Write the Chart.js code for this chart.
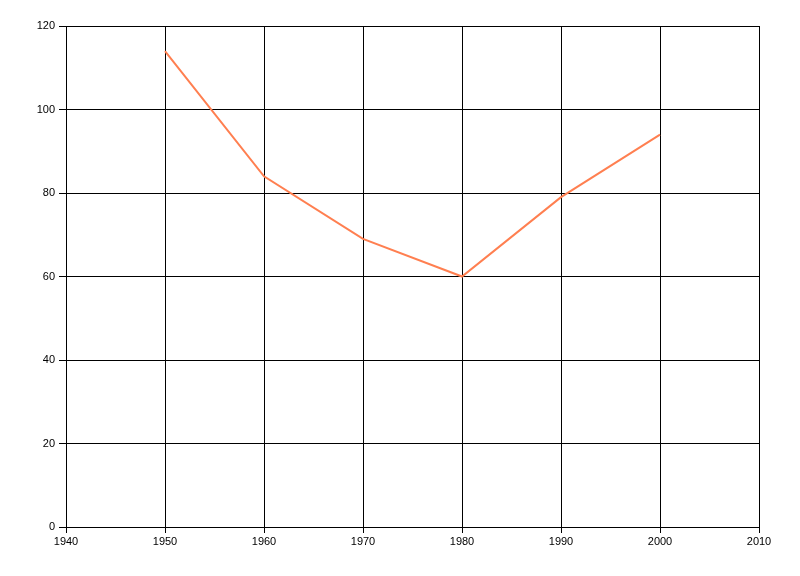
<!DOCTYPE html>
<html>
<head>
<meta charset="utf-8">
<script src="https://cdn.jsdelivr.net/npm/chart.js@4"></script>
<style>
  html, body { margin: 0; padding: 0; background: #fff; }
  #wrap { width: 800px; height: 576px; }
</style>
</head>
<body>
<div id="wrap"><canvas id="chart" width="800" height="576"></canvas></div>
<script>
// values
const years = [1950, 1960, 1970, 1980, 1990, 2000];
const values = [114, 84, 69, 60, 79, 94];
const xMin = 1940, xMax = 2010, xStep = 10;
const yMin = 0, yMax = 120, yStep = 20;

const ctx = document.getElementById('chart').getContext('2d');

new Chart(ctx, {
    type: 'line',
    data: {
        datasets: [{
            data: years.map((y, i) => ({x: y, y: values[i]})),
            borderColor: '#FF7F50',
            borderWidth: 2,
            pointRadius: 0,
            tension: 0,
            fill: false
        }]
    },
    options: {
        responsive: false,
        animation: false,
        layout: {
            padding: {left: 0, top: 26, right: 41, bottom: 0}
        },
        plugins: {
            legend: {display: false},
            tooltip: {enabled: false}
        },
        scales: {
            x: {
                type: 'linear',
                min: xMin,
                max: xMax,
                afterFit: function (scale) { scale.height = 49; },
                ticks: {
                    stepSize: xStep,
                    color: '#000',
                    padding: 2,
                    maxRotation: 0,
                    font: {family: 'Liberation Sans', size: 11},
                    callback: v => String(v)
                },
                grid: {color: '#000', lineWidth: 1, tickLength: 6, tickColor: '#000'},
                border: {color: '#000', width: 1}
            },
            y: {
                min: yMin,
                max: yMax,
                afterFit: function (scale) { scale.width = 66; },
                ticks: {
                    stepSize: yStep,
                    color: '#000',
                    padding: 4,
                    font: {family: 'Liberation Sans', size: 11}
                },
                grid: {color: '#000', lineWidth: 1, tickLength: 7, tickColor: '#000'},
                border: {color: '#000', width: 1}
            }
        }
    }
});
</script>
</body>
</html>
